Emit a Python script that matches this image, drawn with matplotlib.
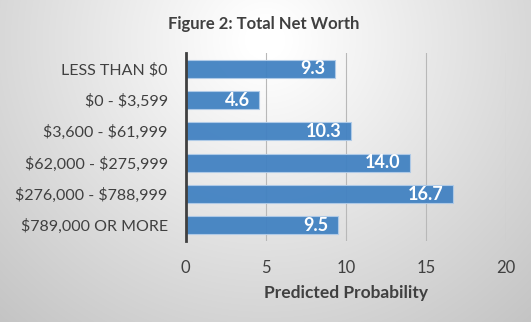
import numpy as np
import matplotlib
matplotlib.use("Agg")
import matplotlib.pyplot as plt

categories = ["LESS THAN $0", "$0 - $3,599", "$3,600 - $61,999",
              "$62,000 - $275,999", "$276,000 - $788,999", "$789,000 OR MORE"]
values = [9.3, 4.6, 10.3, 14.0, 16.7, 9.5]
xticks = [0, 5, 10, 15, 20]
title = "Figure 2: Total Net Worth"
xlabel = "Predicted Probability"

plt.rcParams['font.family'] = ['Lato', 'DejaVu Sans']
plt.rcParams['text.parse_math'] = False

W, H = 531, 322
fig = plt.figure(figsize=(W / 100, H / 100), dpi=100)

# background radial gradient
bg = fig.add_axes([0, 0, 1, 1])
yy, xx = np.mgrid[0:H, 0:W]
r = np.sqrt(((xx - 265) / 330.0) ** 2 + ((yy - 40) / 320.0) ** 2)
v = np.clip(1.013 - 0.205 * r, 0, 1)
bg.imshow(np.dstack([v, v, v]), extent=[0, 1, 0, 1], aspect='auto', origin='upper')
bg.set_axis_off()

ax = fig.add_axes([185.7 / W, 1 - 241 / H, (506.3 - 185.7) / W, (241 - 53) / H])
ax.set_facecolor('none')
y = np.arange(len(categories))
ax.barh(y, values, height=0.58, color='#4282c2', alpha=0.95,
        edgecolor='#b0cbe8', linewidth=0.8, zorder=3)
for yi, val in zip(y, values):
    ax.text(val - 0.6, yi, f"{val:.1f}", ha='right', va='center', color='white',
            fontsize=13, fontweight='bold', zorder=4)

ax.set_xlim(0, 20)
ax.set_ylim(len(categories) - 0.5, -0.5)
ax.set_yticks(y)
ax.set_yticklabels(categories, fontsize=11.5, color='#404040')
ax.set_xticks(xticks)
ax.set_xticklabels([str(t) for t in xticks], fontsize=12, color='#404040')
ax.tick_params(axis='both', length=0)
ax.tick_params(axis='y', pad=13)
ax.tick_params(axis='x', pad=14)
ax.grid(axis='x', color='#b8b8b8', linewidth=0.8, zorder=0)
for s in ['top', 'right', 'bottom']:
    ax.spines[s].set_visible(False)
ax.spines['left'].set_color('#404040')
ax.spines['left'].set_linewidth(2)
ax.spines['left'].set_zorder(5)

ax.set_xlabel(xlabel, fontsize=12.5, fontweight='bold', color='#404040', labelpad=6)
fig.text(264 / W, 1 - 23.7 / H, title, ha='center', va='center', fontsize=12,
         fontweight='bold', color='#404040')

fig.savefig("out.png", dpi=100)
